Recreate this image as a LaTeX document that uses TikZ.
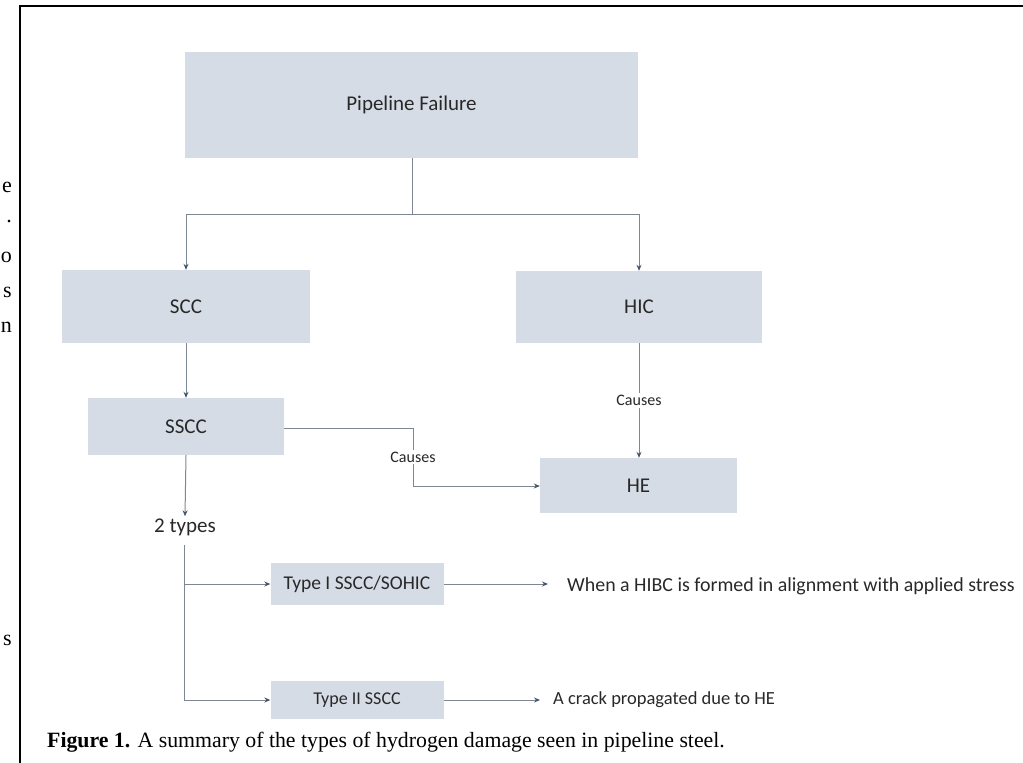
\documentclass[tikz,border=0pt]{standalone}
\usepackage{fontspec}
\setmainfont{Liberation Serif}
\newfontfamily\calfont{Carlito}
\usetikzlibrary{arrows.meta}
\definecolor{boxfill}{RGB}{214,220,229}
\definecolor{linecol}{RGB}{125,135,148}
\definecolor{tipcol}{RGB}{68,84,106}
\definecolor{txtcol}{RGB}{40,40,40}
\tikzset{
  box/.style={fill=boxfill, draw=none, inner sep=0pt, font=\calfont\fontsize{21}{24}\selectfont, text=txtcol},
  smallbox/.style={box, font=\calfont\fontsize{19.5}{22}\selectfont},
  conn/.style={draw=linecol, line width=1pt, -{Stealth[length=6pt,width=5pt,color=tipcol]}},
  plain/.style={draw=linecol, line width=1pt},
  lbl/.style={font=\calfont\fontsize{16}{19}\selectfont, text=txtcol, fill=white, inner sep=2pt},
  note/.style={font=\calfont\fontsize{19.9}{23}\selectfont, text=txtcol, anchor=west, inner sep=0pt},
  stray/.style={font=\fontsize{22}{24}\selectfont, anchor=east, inner sep=0pt}
}
\begin{document}
\begin{tikzpicture}[x=1pt,y=-1pt]
\useasboundingbox (0,0) rectangle (1023,763);
% frame
\draw[line width=2pt] (20,763) -- (20,6) -- (1030,6);
% stray glyphs from neighbouring column
\node[stray] (g1) at (12,187) {e};
\node[stray] (g2) at (12,222) {.};
\node[stray] (g3) at (12,257) {o};
\node[stray] (g4) at (12,292) {s};
\node[stray] (g5) at (12,327) {n};
\node[stray] (g6) at (12,640) {s};
% boxes
\node[box, minimum width=453pt, minimum height=106pt] (pf) at (411.5,105) {Pipeline Failure};
\node[box, minimum width=248pt, minimum height=73pt] (scc) at (186,306.5) {SCC};
\node[box, minimum width=246pt, minimum height=72pt] (hic) at (639,307) {HIC};
\node[box, minimum width=196pt, minimum height=57pt] (sscc) at (186,426.5) {SSCC};
\node[box, minimum width=197pt, minimum height=55pt] (he) at (638.5,485.5) {HE};
\node[font=\calfont\fontsize{21}{24}\selectfont, text=txtcol, inner sep=2pt] (two) at (185,527) {2 types};
\node[smallbox, minimum width=173pt, minimum height=42pt] (t1) at (357,584) {Type I SSCC/SOHIC};
\node[smallbox, font=\calfont\fontsize{18}{21}\selectfont, minimum width=173pt, minimum height=38pt] (t2) at (357,700) {Type II SSCC};
\node[note] (n1) at (567,586) {When a HIBC is formed in alignment with applied stress};
\node[note, font=\calfont\fontsize{18.5}{21}\selectfont] (n2) at (553,700) {A crack propagated due to HE};
% coordinates
\coordinate (j) at (412,214);
\coordinate (sj) at (184,545);
% connectors
\draw[plain] (pf.south -| j) -- (j);
\draw[conn] (j) -| (scc.north);
\draw[conn] (j) -| (hic.north);
\draw[conn] (scc.south) -- (sscc.north);
\draw[conn] (hic.south) -- node[lbl, pos=0.5] (c1) {Causes} (he.north -| hic.south);
\draw[conn] (sscc.east |- 0,428) -- (413,428) -- node[lbl, pos=0.5] (c2) {Causes} (413,486) -- (he.west |- 0,486);
\draw[conn] (sscc.south) -- (two.north);
\draw[plain] (sj) -- (184,700);
\draw[conn] (184,584) -- (t1.west);
\draw[conn] (184,700) -- (t2.west);
\draw[conn] (t1.east) -- (548,584);
\draw[conn] (t2.east) -- (540,700);
% caption
\node[anchor=base west, inner sep=0pt, font=\fontsize{21.8}{24}\selectfont] (cap) at (47,747) {\textbf{Figure 1.} A summary of the types of hydrogen damage seen in pipeline steel.};
\end{tikzpicture}
\end{document}
